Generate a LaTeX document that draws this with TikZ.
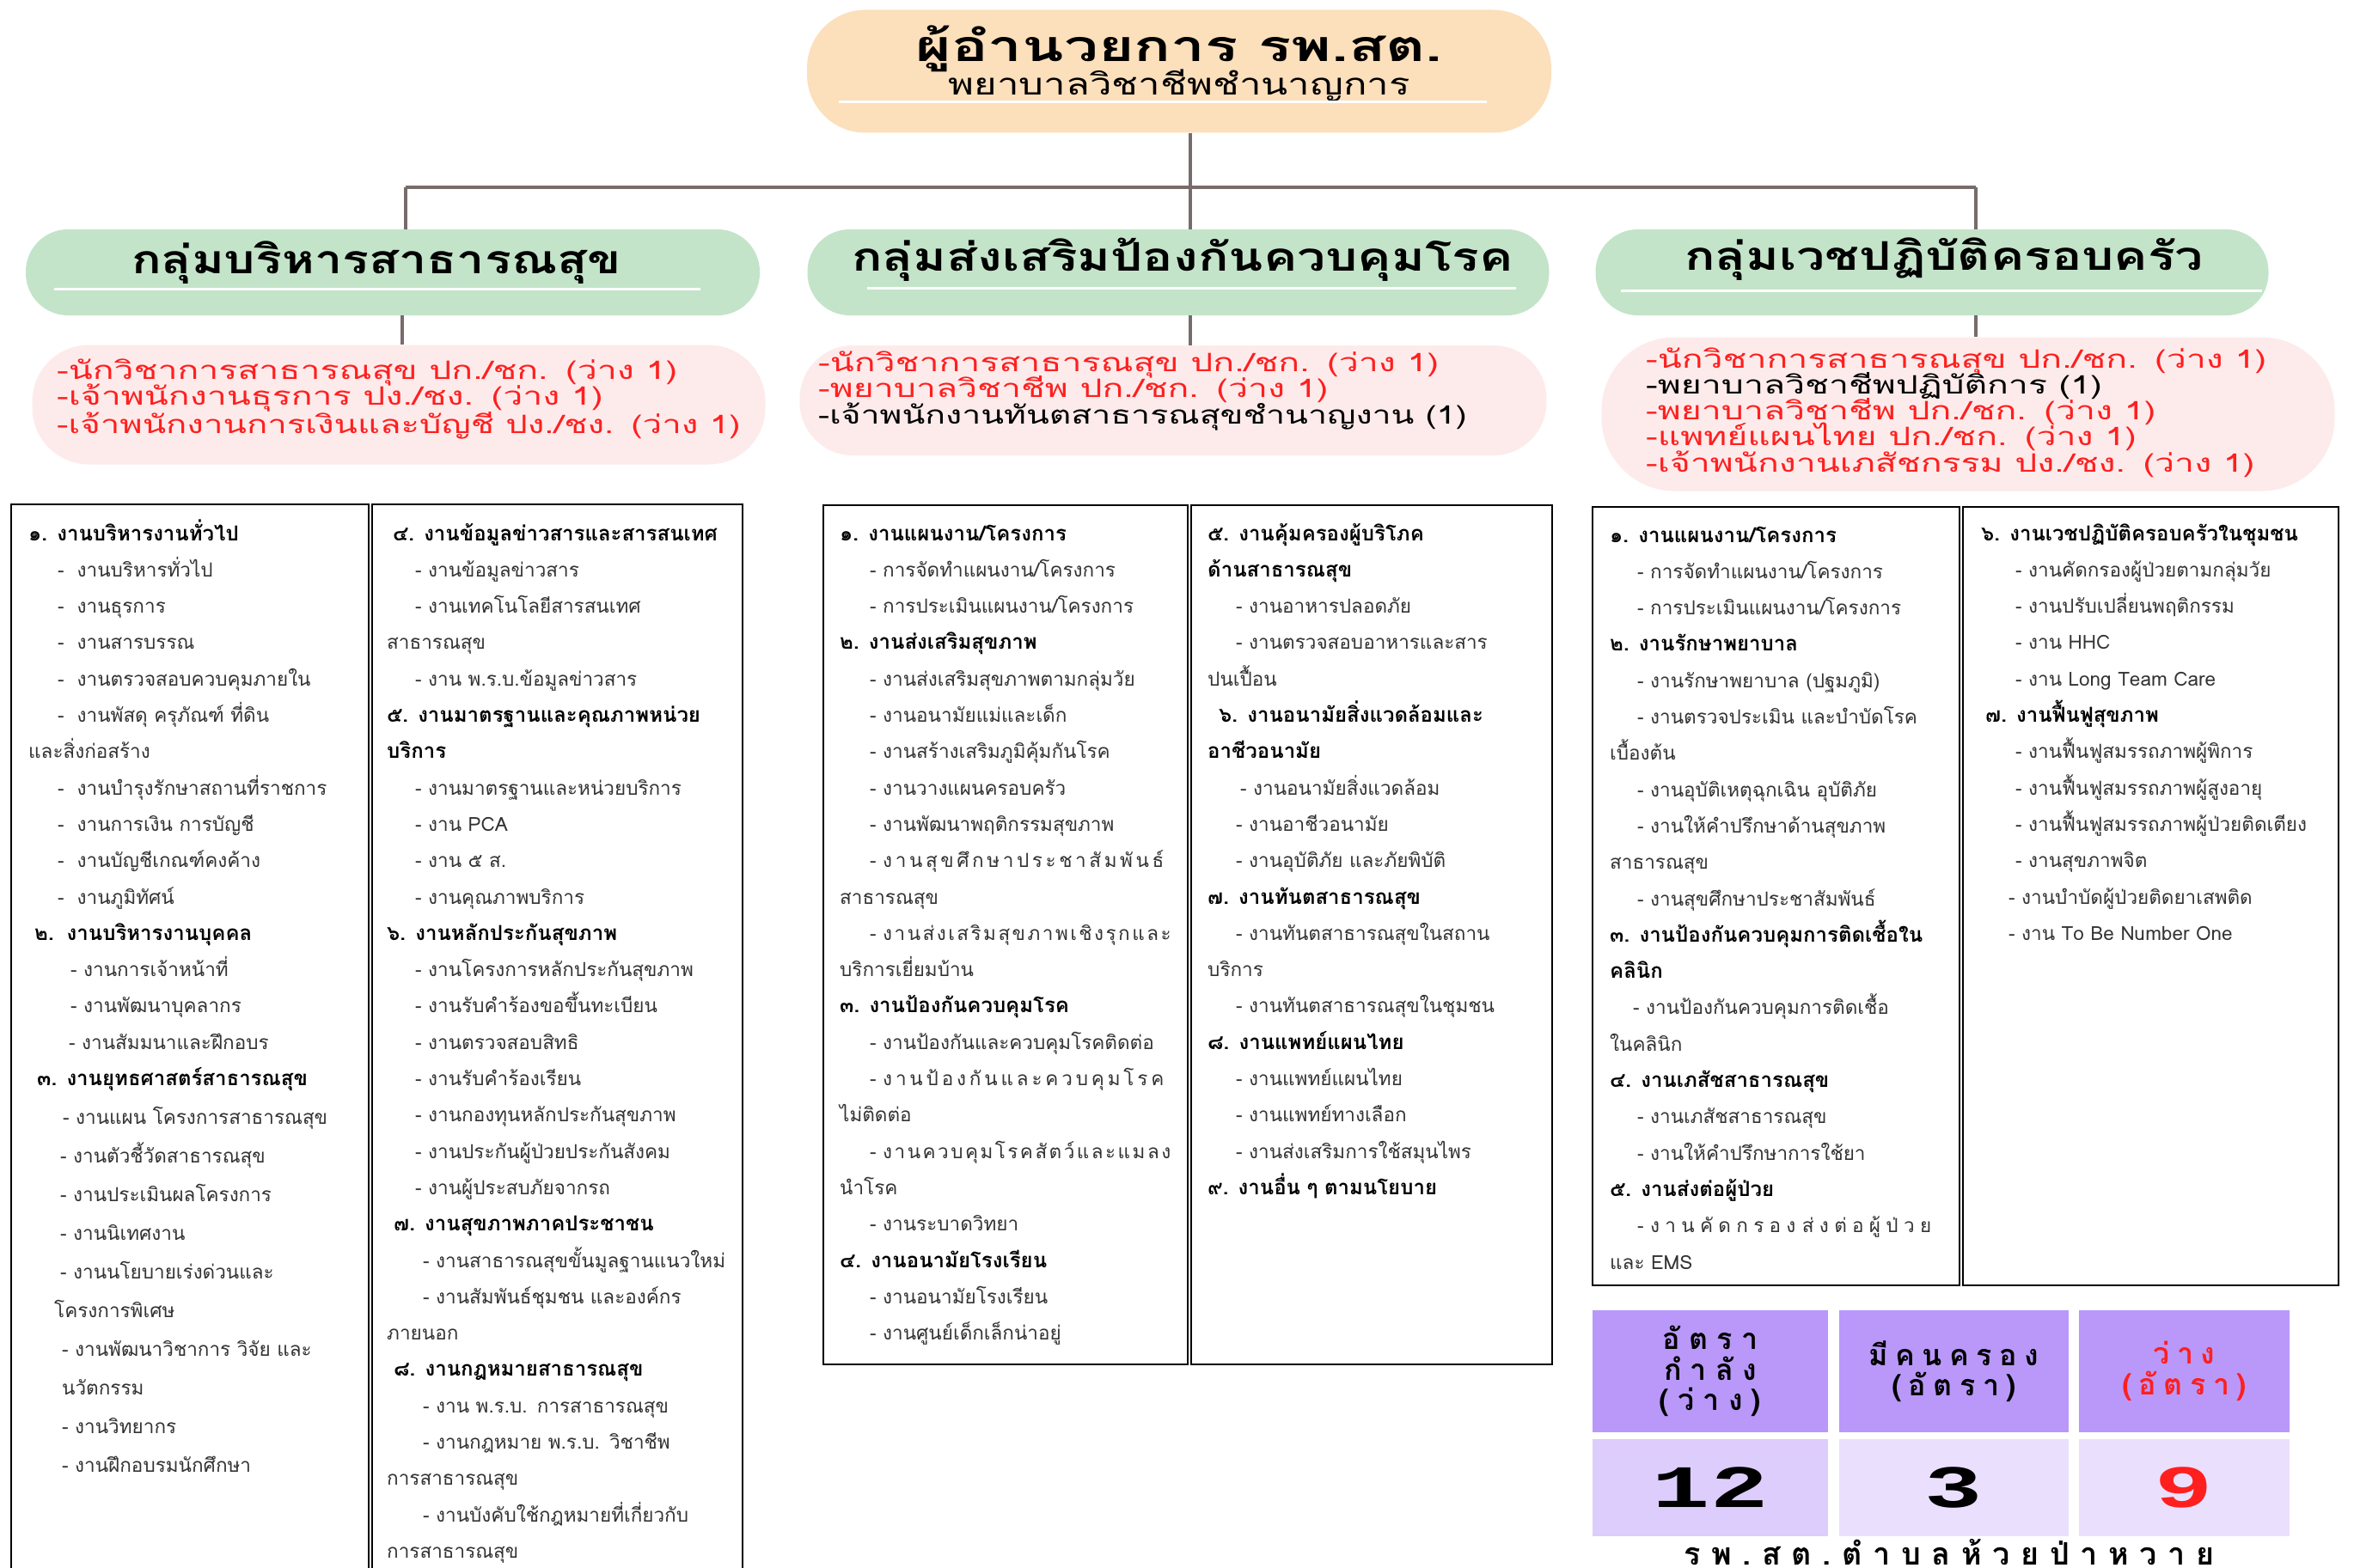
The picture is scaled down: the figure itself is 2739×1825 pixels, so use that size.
\documentclass[tikz,border=0pt]{standalone}
\usepackage{fontspec}
\usepackage{graphicx}
\setmainfont{Loma}[Script=Thai]
\newfontfamily\numfont{Liberation Mono}
\definecolor{peach}{HTML}{FCDFBB}
\definecolor{gbox}{HTML}{C3E4C9}
\definecolor{pbox}{HTML}{FDEBEB}
\definecolor{redtxt}{HTML}{FF1F1F}
\definecolor{conn}{HTML}{776B6B}
\definecolor{thead}{HTML}{B998FA}
\definecolor{tval}{HTML}{DDCDFC}
\definecolor{tvalb}{HTML}{EAE0FD}
\newcommand\indt[1]{\hspace*{#1pt}}
\newcommand\hd[1]{{\fontsize{24}{42.3}\selectfont\bfseries\color{black}#1}}
\newcommand\spread[2]{{\addfontfeature{LetterSpace=#1}#2}}
\newcommand\lsp[2]{{\addfontfeature{LetterSpace=#1}#2}}
\newcommand\sx[2]{\scalebox{#1}[1]{#2}}
\newcommand\nolsk{\lineskiplimit=-100pt\relax}
\begin{document}
\begin{tikzpicture}[x=1pt,y=-1pt,
  stad/.style={draw=none,inner sep=0pt},
  connline/.style={draw=conn,line width=4.5pt},
  whiteline/.style={draw=white,line width=3pt},
  colbox/.style={draw=black,line width=2.2pt,inner sep=0pt,anchor=north west},
  listtxt/.style={anchor=base west,inner sep=0pt,align=left,text width=440pt,
    font=\fontsize{22.5}{42.3}\selectfont,text=black!80},
  pinktxt/.style={anchor=base west,inner sep=0pt,align=left,text width=900pt,
    font=\fontsize{29.5}{30}\selectfont},
  grptxt/.style={inner sep=0pt,font=\fontsize{46}{50}\selectfont\bfseries},
  cell/.style={draw=white,line width=2pt,inner sep=0pt},
  headtxt/.style={inner sep=0pt,align=center,font=\fontsize{34}{35.5}\selectfont\bfseries},
  valtxt/.style={inner sep=0pt,font=\fontsize{70}{70}\numfont\bfseries}
]
\useasboundingbox[fill=white] (0,0) rectangle (2739,1825);

% ---------- top ----------
\node[stad,fill=peach,minimum width=866pt,minimum height=143pt,rounded corners=68pt] (title) at (1372,83) {};
\node[inner sep=0pt,font=\fontsize{50}{56}\selectfont\bfseries] (ttlA) at (1372,57) {\sx{1.42}{ผู้อำนวยการ รพ.สต.}};
\node[inner sep=0pt,font=\fontsize{35}{40}\selectfont] (ttlB) at (1372,100) {\sx{1.3}{พยาบาลวิชาชีพชำนาญการ}};
\draw[whiteline] (976,119) -- (1730,119);

% ---------- groups ----------
\node[stad,fill=gbox,minimum width=854pt,minimum height=100pt,rounded corners=49pt] (gL) at (457,317) {};
\node[stad,fill=gbox,minimum width=863pt,minimum height=100pt,rounded corners=49pt] (gM) at (1371,317) {};
\node[stad,fill=gbox,minimum width=783pt,minimum height=100pt,rounded corners=49pt] (gR) at (2248,317) {};
\node[grptxt] (gLt) at (438,306) {\sx{1.25}{กลุ่มบริหารสาธารณสุข}};
\node[grptxt] (gMt) at (1376,302) {\sx{1.28}{กลุ่มส่งเสริมป้องกันควบคุมโรค}};
\node[grptxt] (gRt) at (2262,302) {\sx{1.28}{กลุ่มเวชปฏิบัติครอบครัว}};
\draw[whiteline] (63,336) -- (815,336);
\draw[whiteline] (1009,335) -- (1764,335);
\draw[whiteline] (1886,338) -- (2632,338);

% ---------- connectors ----------
\coordinate (jL) at (472,218);
\coordinate (jT) at (1385,218);
\coordinate (jR) at (2299,218);
\coordinate (kL) at (468,0);
\coordinate (kM) at (1385,0);
\coordinate (kR) at (2299,0);

% ---------- positions boxes ----------
\node[stad,fill=pbox,minimum width=853pt,minimum height=139pt,rounded corners=66pt] (pL) at (464,471) {};
\node[stad,fill=pbox,minimum width=869pt,minimum height=128pt,rounded corners=62pt] (pM) at (1365,466) {};
\node[stad,fill=pbox,minimum width=853pt,minimum height=179pt,rounded corners=85pt] (pR) at (2290,482) {};

\draw[connline] (jT |- title.south) -- (jT);
\draw[connline] (jL) -- (jR);
\draw[connline] (jL) -- (jL |- gL.north);
\draw[connline] (jT) -- (jT |- gM.north);
\draw[connline] (jR) -- (jR |- gR.north);
\draw[connline] (kL |- gL.south) -- (kL |- pL.north);
\draw[connline] (kM |- gM.south) -- (kM |- pM.north);
\draw[connline] (kR |- gR.south) -- (kR |- pR.north);

\node[pinktxt,text=redtxt] (pLt) at (66,441) {\nolsk\sx{1.39}{-นักวิชาการสาธารณสุข ปก./ชก. (ว่าง 1)}\\
\sx{1.39}{-เจ้าพนักงานธุรการ ปง./ชง. (ว่าง 1)}\\
\sx{1.36}{-เจ้าพนักงานการเงินและบัญชี ปง./ชง. (ว่าง 1)}};
\node[pinktxt,text=redtxt] (pMt) at (952,432) {\nolsk\sx{1.39}{-นักวิชาการสาธารณสุข ปก./ชก. (ว่าง 1)}\\
\sx{1.39}{-พยาบาลวิชาชีพ ปก./ชก. (ว่าง 1)}\\
\textcolor{black}{\sx{1.33}{-เจ้าพนักงานทันตสาธารณสุขชำนาญงาน (1)}}};
\node[pinktxt,text=redtxt] (pRt) at (1915,428) {\nolsk\sx{1.39}{-นักวิชาการสาธารณสุข ปก./ชก. (ว่าง 1)}\\
\textcolor{black}{\sx{1.39}{-พยาบาลวิชาชีพปฏิบัติการ (1)}}\\
\sx{1.39}{-พยาบาลวิชาชีพ ปก./ชก. (ว่าง 1)}\\
\sx{1.39}{-แพทย์แผนไทย ปก./ชก. (ว่าง 1)}\\
\sx{1.39}{-เจ้าพนักงานเภสัชกรรม ปง./ชง. (ว่าง 1)}};

% ---------- column boxes ----------
\node[colbox,minimum width=416pt,minimum height=1254pt] (bL1) at (12,586) {};
\node[colbox,minimum width=431pt,minimum height=1254pt] (bL2) at (432,586) {};
\node[colbox,minimum width=424pt,minimum height=1000pt] (bM1) at (957,587) {};
\node[colbox,minimum width=420pt,minimum height=1000pt] (bM2) at (1385,587) {};
\node[colbox,minimum width=427pt,minimum height=906pt] (bR1) at (1852,589) {};
\node[colbox,minimum width=437pt,minimum height=906pt] (bR2) at (2283,589) {};

\node[listtxt] (lL1) at (33,629) {\hd{๑. งานบริหารงานทั่วไป}\\
\indt{34}-~~งานบริหารทั่วไป\\
\indt{34}-~~งานธุรการ\\
\indt{34}-~~งานสารบรรณ\\
\indt{34}-~~งานตรวจสอบควบคุมภายใน\\
\indt{34}-~~งานพัสดุ ครุภัณฑ์ ที่ดิน\\
และสิ่งก่อสร้าง\\
\indt{34}-~~งานบำรุงรักษาสถานที่ราชการ\\
\indt{34}-~~งานการเงิน การบัญชี\\
\indt{34}-~~งานบัญชีเกณฑ์คงค้าง\\
\indt{34}-~~งานภูมิทัศน์\\
\indt{7}\hd{๒.~~งานบริหารงานบุคคล}\\
\indt{49}- งานการเจ้าหน้าที่\\
\indt{49}- งานพัฒนาบุคลากร\\
\indt{47}- งานสัมมนาและฝึกอบร\\
\indt{10}\hd{๓. งานยุทธศาสตร์สาธารณสุข}\\[2.7pt]
\indt{40}- งานแผน โครงการสาธารณสุข\\[2.7pt]
\indt{37}- งานตัวชี้วัดสาธารณสุข\\[2.7pt]
\indt{37}- งานประเมินผลโครงการ\\[2.7pt]
\indt{37}- งานนิเทศงาน\\[2.7pt]
\indt{37}- งานนโยบายเร่งด่วนและ\\[2.7pt]
\indt{30}โครงการพิเศษ\\[2.7pt]
\indt{39}- งานพัฒนาวิชาการ วิจัย และ\\[2.7pt]
\indt{39}นวัตกรรม\\[2.7pt]
\indt{39}- งานวิทยากร\\[2.7pt]
\indt{39}- งานฝึกอบรมนักศึกษา};

\node[listtxt] (lL2) at (450,629) {\indt{7}\hd{๔. งานข้อมูลข่าวสารและสารสนเทศ}\\
\indt{33}- งานข้อมูลข่าวสาร\\
\indt{33}- งานเทคโนโลยีสารสนเทศ\\
สาธารณสุข\\
\indt{33}- งาน พ.ร.บ.ข้อมูลข่าวสาร\\
\hd{๕. งานมาตรฐานและคุณภาพหน่วย}\\
\hd{บริการ}\\
\indt{33}- งานมาตรฐานและหน่วยบริการ\\
\indt{33}- งาน PCA\\
\indt{33}- งาน ๕ ส.\\
\indt{33}- งานคุณภาพบริการ\\
\hd{๖. งานหลักประกันสุขภาพ}\\
\indt{33}- งานโครงการหลักประกันสุขภาพ\\
\indt{33}- งานรับคำร้องขอขึ้นทะเบียน\\
\indt{33}- งานตรวจสอบสิทธิ\\
\indt{33}- งานรับคำร้องเรียน\\
\indt{33}- งานกองทุนหลักประกันสุขภาพ\\
\indt{33}- งานประกันผู้ป่วยประกันสังคม\\
\indt{33}- งานผู้ประสบภัยจากรถ\\
\indt{8}\hd{๗. งานสุขภาพภาคประชาชน}\\
\indt{42}- งานสาธารณสุขขั้นมูลฐานแนวใหม่\\
\indt{42}- งานสัมพันธ์ชุมชน และองค์กร\\
ภายนอก\\
\indt{8}\hd{๘. งานกฎหมายสาธารณสุข}\\
\indt{42}- งาน พ.ร.บ. การสาธารณสุข\\
\indt{42}- งานกฎหมาย พ.ร.บ. วิชาชีพ\\
การสาธารณสุข\\
\indt{42}- งานบังคับใช้กฎหมายที่เกี่ยวกับ\\
การสาธารณสุข};

\node[listtxt] (lM1) at (977,629) {\hd{๑. งานแผนงาน/โครงการ}\\
\indt{35}- การจัดทำแผนงาน/โครงการ\\
\indt{35}- การประเมินแผนงาน/โครงการ\\
\hd{๒. งานส่งเสริมสุขภาพ}\\
\indt{35}- งานส่งเสริมสุขภาพตามกลุ่มวัย\\
\indt{35}- งานอนามัยแม่และเด็ก\\
\indt{35}- งานสร้างเสริมภูมิคุ้มกันโรค\\
\indt{35}- งานวางแผนครอบครัว\\
\indt{35}- งานพัฒนาพฤติกรรมสุขภาพ\\
\indt{35}\spread{16}{- งานสุขศึกษาประชาสัมพันธ์}\\
สาธารณสุข\\
\indt{35}\spread{11}{- งานส่งเสริมสุขภาพเชิงรุกและ}\\
บริการเยี่ยมบ้าน\\
\hd{๓. งานป้องกันควบคุมโรค}\\
\indt{35}- งานป้องกันและควบคุมโรคติดต่อ\\
\indt{35}\spread{17}{- งานป้องกันและควบคุมโรค}\\
ไม่ติดต่อ\\
\indt{35}\spread{11}{- งานควบคุมโรคสัตว์และแมลง}\\
นำโรค\\
\indt{35}- งานระบาดวิทยา\\
\hd{๔. งานอนามัยโรงเรียน}\\
\indt{35}- งานอนามัยโรงเรียน\\
\indt{35}- งานศูนย์เด็กเล็กน่าอยู่};

\node[listtxt] (lM2) at (1405,629) {\hd{๕. งานคุ้มครองผู้บริโภค}\\
\hd{ด้านสาธารณสุข}\\
\indt{33}- งานอาหารปลอดภัย\\
\indt{33}- งานตรวจสอบอาหารและสาร\\
ปนเปื้อน\\
\indt{13}\hd{๖. งานอนามัยสิ่งแวดล้อมและ}\\
\hd{อาชีวอนามัย}\\
\indt{38}- งานอนามัยสิ่งแวดล้อม\\
\indt{33}- งานอาชีวอนามัย\\
\indt{33}- งานอุบัติภัย และภัยพิบัติ\\
\hd{๗. งานทันตสาธารณสุข}\\
\indt{33}- งานทันตสาธารณสุขในสถาน\\
บริการ\\
\indt{33}- งานทันตสาธารณสุขในชุมชน\\
\hd{๘. งานแพทย์แผนไทย}\\
\indt{33}- งานแพทย์แผนไทย\\
\indt{33}- งานแพทย์ทางเลือก\\
\indt{33}- งานส่งเสริมการใช้สมุนไพร\\
\hd{๙. งานอื่น ๆ ตามนโยบาย}};

\node[listtxt] (lR1) at (1873,631) {\hd{๑. งานแผนงาน/โครงการ}\\
\indt{32}- การจัดทำแผนงาน/โครงการ\\
\indt{32}- การประเมินแผนงาน/โครงการ\\
\hd{๒. งานรักษาพยาบาล}\\
\indt{32}- งานรักษาพยาบาล (ปฐมภูมิ)\\
\indt{32}- งานตรวจประเมิน และบำบัดโรค\\
เบื้องต้น\\
\indt{32}- งานอุบัติเหตุฉุกเฉิน อุบัติภัย\\
\indt{32}- งานให้คำปรึกษาด้านสุขภาพ\\
สาธารณสุข\\
\indt{32}- งานสุขศึกษาประชาสัมพันธ์\\
\hd{๓. งานป้องกันควบคุมการติดเชื้อใน}\\
\hd{คลินิก}\\
\indt{27}- งานป้องกันควบคุมการติดเชื้อ\\
ในคลินิก\\
\hd{๔. งานเภสัชสาธารณสุข}\\
\indt{32}- งานเภสัชสาธารณสุข\\
\indt{32}- งานให้คำปรึกษาการใช้ยา\\
\hd{๕. งานส่งต่อผู้ป่วย}\\
\indt{32}\spread{28}{- งานคัดกรอง ส่งต่อผู้ป่วย}\\
และ EMS};

\node[listtxt] (lR2) at (2305,629) {\hd{๖. งานเวชปฏิบัติครอบครัวในชุมชน}\\
\indt{40}- งานคัดกรองผู้ป่วยตามกลุ่มวัย\\
\indt{40}- งานปรับเปลี่ยนพฤติกรรม\\
\indt{40}- งาน HHC\\
\indt{40}- งาน Long Team Care\\
\indt{5}\hd{๗. งานฟื้นฟูสุขภาพ}\\
\indt{40}- งานฟื้นฟูสมรรถภาพผู้พิการ\\
\indt{40}- งานฟื้นฟูสมรรถภาพผู้สูงอายุ\\
\indt{40}- งานฟื้นฟูสมรรถภาพผู้ป่วยติดเตียง\\
\indt{40}- งานสุขภาพจิต\\
\indt{32}- งานบำบัดผู้ป่วยติดยาเสพติด\\
\indt{32}- งาน To Be Number One};

% ---------- table ----------
\node[cell,fill=thead,minimum width=276pt,minimum height=144pt] (h1) at (1990,1596) {};
\node[cell,fill=thead,minimum width=269pt,minimum height=144pt] (h2) at (2273.5,1596) {};
\node[cell,fill=thead,minimum width=247pt,minimum height=144pt] (h3) at (2541.5,1596) {};
\node[cell,fill=tval,minimum width=276pt,minimum height=115pt] (v1) at (1990,1731.5) {};
\node[cell,fill=tvalb,minimum width=269pt,minimum height=115pt] (v2) at (2273.5,1731.5) {};
\node[cell,fill=tvalb,minimum width=247pt,minimum height=115pt] (v3) at (2541.5,1731.5) {};
\node[headtxt] (h1t) at (h1) {\nolsk\lsp{30}{อัตรา}\\\lsp{30}{กำลัง}\\\lsp{30}{(ว่าง)}};
\node[headtxt] (h2t) at (h2) {\nolsk\lsp{25}{มีคนครอง}\\\lsp{25}{(อัตรา)}};
\node[headtxt,text=redtxt] (h3t) at (h3) {\nolsk\lsp{25}{ว่าง}\\\lsp{25}{(อัตรา)}};
\node[valtxt] (v1t) at (v1) {\scalebox{1.6}[1]{12}};
\node[valtxt] (v2t) at (v2) {\scalebox{1.6}[1]{3}};
\node[valtxt,text=redtxt] (v3t) at (v3) {\scalebox{1.6}[1]{9}};
\node[inner sep=0pt,font=\fontsize{36}{38}\selectfont\bfseries,anchor=base] (cap) at (2268,1821) {\lsp{35}{รพ.สต.ตำบลห้วยป่าหวาย}};
\end{tikzpicture}
\end{document}
